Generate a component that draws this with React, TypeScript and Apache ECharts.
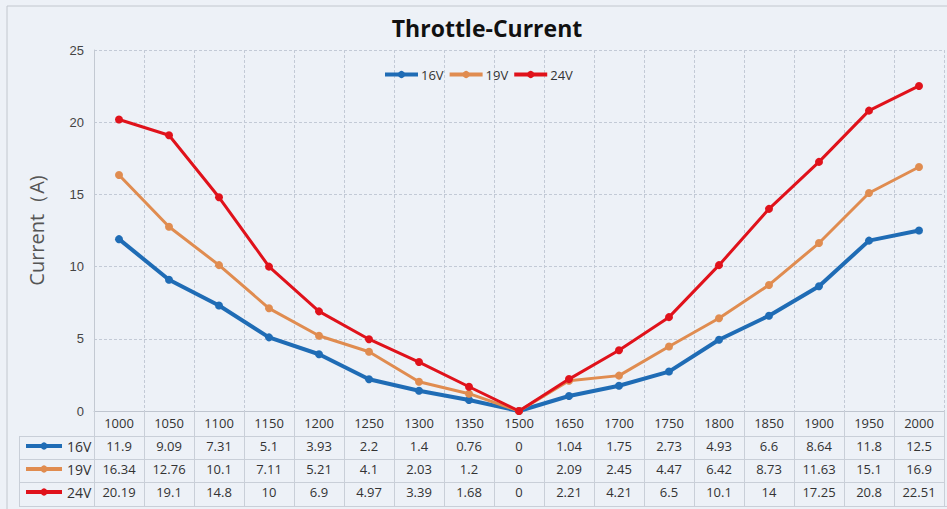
import React, { useEffect, useRef } from "react";
import * as echarts from "echarts";

const categories = ["1000", "1050", "1100", "1150", "1200", "1250", "1300", "1350", "1500", "1650", "1700", "1750", "1800", "1850", "1900", "1950", "2000"];
const seriesNames = ["16V", "19V", "24V"];
const v16 = [11.9, 9.09, 7.31, 5.1, 3.93, 2.2, 1.4, 0.76, 0, 1.04, 1.75, 2.73, 4.93, 6.6, 8.64, 11.8, 12.5];
const v19 = [16.34, 12.76, 10.1, 7.11, 5.21, 4.1, 2.03, 1.2, 0, 2.09, 2.45, 4.47, 6.42, 8.73, 11.63, 15.1, 16.9];
const v24 = [20.19, 19.1, 14.8, 10, 6.9, 4.97, 3.39, 1.68, 0, 2.21, 4.21, 6.5, 10.1, 14, 17.25, 20.8, 22.51];
const seriesValues = [v16, v19, v24];
const colors = ["#1f6cb5", "#e08c50", "#e0121b"];
const widths = [4, 3, 3];

const TABLE_FONT = "'Open Sans', 'Liberation Sans', sans-serif";
const tableLine = "#c9cfd8";

export default function App() {
  const ref = useRef<HTMLDivElement>(null);
  useEffect(() => {
    if (!ref.current) return;
    const chart = echarts.init(ref.current, null, { renderer: "svg" });
    const tableAxis = (offset: number, values: number[] | null, tickLen: number, showLabel: boolean) => ({
      type: "category",
      gridIndex: 0,
      position: "bottom",
      offset,
      data: categories,
      boundaryGap: true,
      axisLine: { show: true, lineStyle: { color: tableLine, width: 1 } },
      axisTick: { show: tickLen > 0, interval: 0, length: tickLen, alignWithLabel: false, lineStyle: { color: tableLine } },
      axisLabel: {
        show: showLabel,
        interval: 0,
        margin: 3,
        fontSize: 13,
        color: "#333",
        fontFamily: TABLE_FONT,
        formatter: (v: string, i: number) => (values ? String(values[i]) : v),
      },
      splitLine: { show: false },
    });
    chart.setOption({
      animation: false,
      backgroundColor: "#edf1f7",
      title: {
        text: "Throttle-Current",
        left: 482,
        textAlign: "center",
        top: 11,
        textStyle: { fontSize: 23, fontWeight: "bold", color: "#111", fontFamily: "'Open Sans', sans-serif" },
      },
      legend: [
        {
          data: seriesNames,
          left: 383,
          top: 68,
          itemWidth: 33,
          itemHeight: 9,
          itemGap: 4,
          padding: 0,
          lineStyle: { width: 4 },
          textStyle: { fontSize: 13, color: "#333", fontFamily: TABLE_FONT, padding: [0, 0, 0, -2] },
        },
        {
          data: seriesNames,
          orient: "vertical",
          left: 24,
          top: 439,
          itemWidth: 36,
          itemHeight: 9,
          itemGap: 9,
          padding: 0,
          lineStyle: { width: 4 },
          textStyle: { fontSize: 14, color: "#333", fontFamily: TABLE_FONT, lineHeight: 14 },
        },
      ],
      grid: { left: 94, right: 3, top: 50, bottom: 98 },
      xAxis: [
        {
          type: "category",
          data: categories,
          position: "bottom",
          boundaryGap: true,
          axisLine: { show: true, lineStyle: { color: "#bfc5cf" } },
          axisTick: { show: true, interval: 0, length: 25, alignWithLabel: false, lineStyle: { color: tableLine } },
          axisLabel: { interval: 0, margin: 5, fontSize: 13, color: "#333", fontFamily: TABLE_FONT },
          splitLine: { show: true, interval: 0, lineStyle: { color: "#c3cad6", type: [3, 2] } },
        },
        tableAxis(25, v16, 23, true),
        tableAxis(48, v19, 23, true),
        tableAxis(71, v24, 24, true),
        tableAxis(95, null, 0, false),
      ],
      yAxis: {
        type: "value",
        min: 0,
        max: 25,
        interval: 5,
        name: "Current（A)",
        nameLocation: "middle",
        nameGap: 48,
        nameTextStyle: { fontSize: 20, color: "#555", fontFamily: "'Open Sans', sans-serif" },
        axisLine: { show: true, lineStyle: { color: "#c3c9d2" } },
        axisTick: { show: false },
        axisLabel: { fontSize: 13, color: "#444", margin: 10, fontFamily: "'Liberation Sans', Arial, sans-serif" },
        splitLine: { show: true, lineStyle: { color: "#c3cad6", type: [3, 2] } },
      },
      graphic: [
        { type: "rect", shape: { x: 7, y: 6, width: 960, height: 520 }, style: { fill: "none", stroke: "#c2c7ce", lineWidth: 1 }, silent: true },
        { type: "line", shape: { x1: 19, y1: 436.5, x2: 94, y2: 436.5 }, style: { stroke: tableLine, lineWidth: 1 } },
        { type: "line", shape: { x1: 19, y1: 459.5, x2: 94, y2: 459.5 }, style: { stroke: tableLine, lineWidth: 1 } },
        { type: "line", shape: { x1: 19, y1: 482.5, x2: 94, y2: 482.5 }, style: { stroke: tableLine, lineWidth: 1 } },
        { type: "line", shape: { x1: 19, y1: 506.5, x2: 947, y2: 506.5 }, style: { stroke: tableLine, lineWidth: 1 } },
        { type: "line", shape: { x1: 19.5, y1: 436, x2: 19.5, y2: 507 }, style: { stroke: tableLine, lineWidth: 1 } },
        { type: "line", shape: { x1: 94.5, y1: 411, x2: 94.5, y2: 507 }, style: { stroke: tableLine, lineWidth: 1 } },
      ],
      series: seriesValues.map((vals, k) => ({
        name: seriesNames[k],
        type: "line",
        data: vals,
        xAxisIndex: 0,
        symbol: "circle",
        symbolSize: 8,
        color: colors[k],
        lineStyle: { width: widths[k], color: colors[k] },
        itemStyle: { color: colors[k] },
        z: 3 + k,
      })),
    });
    return () => chart.dispose();
  }, []);
  return <div ref={ref} style={{ position: "fixed", left: 0, top: 0, width: 947, height: 509 }} />;
}
